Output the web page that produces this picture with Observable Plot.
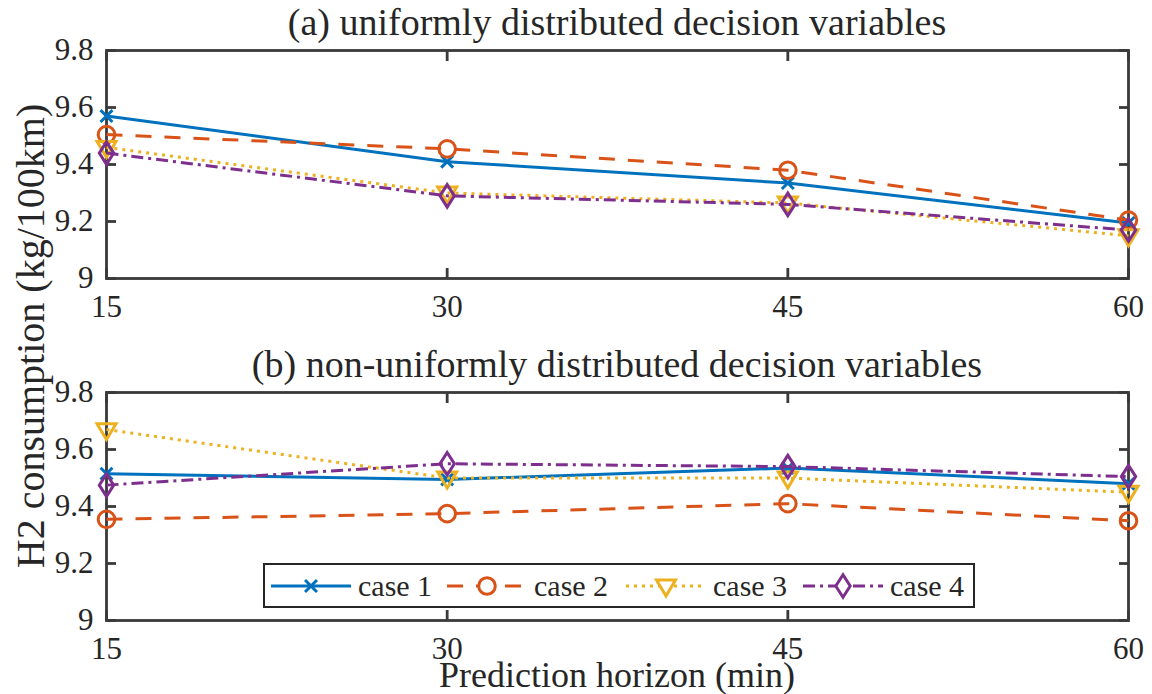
<!DOCTYPE html>
<html>
<head>
<meta charset="utf-8">
<script src="https://cdn.jsdelivr.net/npm/d3@7"></script>
<script src="https://cdn.jsdelivr.net/npm/@observablehq/plot@0.6"></script>
<style>
  body { margin: 0; background: #fff; }
  #fig { position: relative; width: 1152px; height: 694px; overflow: hidden; color: #262626;
         font-family: 'Liberation Serif', 'Times New Roman', serif; }
  .panel { position: absolute; left: 0; }
  .title { position: absolute; left: 106px; width: 1022px; text-align: center;
           font-size: 38px; line-height: 1; white-space: nowrap; }
  .ylabel { position: absolute; left: 31px; top: 336px;
            font-size: 40px; line-height: 1; white-space: nowrap;
            transform: translate(-50%, -50%) rotate(-90deg); }
  .xlabel { position: absolute; left: 106px; width: 1022px; top: 657px; text-align: center;
            font-size: 36px; line-height: 1; white-space: nowrap; }
  .legend { position: absolute; left: 263px; top: 563px; width: 708px; height: 41px;
            border: 2px solid #262626; background: #fff; }
  .legend .item { position: absolute; top: 0; height: 41px; display: flex; align-items: center; }
  .legend .item span { font-size: 30px; margin-left: 6px; white-space: nowrap; }
</style>
</head>
<body>
<div id="fig"></div>
<script>
// Prediction horizons (min) on the x axis
const horizons = [15, 30, 45, 60];
const yTicks = [9, 9.2, 9.4, 9.6, 9.8];
const caseNames = ["case 1", "case 2", "case 3", "case 4"];

// H2 consumption (kg/100km), uniformly distributed decision variables
const uniform1 = [9.57, 9.41, 9.335, 9.195];
const uniform2 = [9.505, 9.455, 9.38, 9.205];
const uniform3 = [9.46, 9.30, 9.265, 9.15];
const uniform4 = [9.44, 9.29, 9.26, 9.17];

// H2 consumption (kg/100km), non-uniformly distributed decision variables
const nonUniform1 = [9.515, 9.495, 9.535, 9.48];
const nonUniform2 = [9.355, 9.375, 9.41, 9.35];
const nonUniform3 = [9.67, 9.50, 9.50, 9.45];
const nonUniform4 = [9.475, 9.55, 9.54, 9.505];

const panelTitles = [
  "(a) uniformly distributed decision variables",
  "(b) non-uniformly distributed decision variables"
];

// Marker shapes: cross, circle, downward triangle, tall diamond
const symTimes = {
  draw(ctx, size) {
    const s = Math.sqrt(size / Math.PI) * 0.7;
    ctx.moveTo(-s, -s); ctx.lineTo(s, s);
    ctx.moveTo(s, -s); ctx.lineTo(-s, s);
  }
};
const symCircle = {
  draw(ctx, size) {
    const r = Math.sqrt(size / Math.PI);
    ctx.moveTo(r, 0); ctx.arc(0, 0, r, 0, 2 * Math.PI);
  }
};
const symTriDown = {
  draw(ctx, size) {
    const r = Math.sqrt(size / Math.PI);
    ctx.moveTo(-r, -0.62 * r); ctx.lineTo(r, -0.62 * r); ctx.lineTo(0, 1.05 * r); ctx.closePath();
  }
};
const symDiamond = {
  draw(ctx, size) {
    const r = Math.sqrt(size / Math.PI);
    ctx.moveTo(0, -1.25 * r); ctx.lineTo(0.8 * r, 0); ctx.lineTo(0, 1.25 * r); ctx.lineTo(-0.8 * r, 0); ctx.closePath();
  }
};

const styles = [
  {color: "#0072BD", dash: null, symbol: symTimes, r: 8.5},
  {color: "#D95319", dash: "16,13", symbol: symCircle, r: 8.3},
  {color: "#EDB120", dash: "3,5", symbol: symTriDown, r: 9.5},
  {color: "#7E2F8E", dash: "12,5,3,5", symbol: symDiamond, r: 9}
];

const axisColor = "#3a3a3a";
const textColor = "#262626";
const fontFamily = "'Liberation Serif', 'Times New Roman', serif";
const fmt = d => (d === 9 ? "9" : d3.format(".1f")(d));

function toRows(values) {
  return horizons.map((h, i) => ({horizon: h, value: values[i]}));
}

function panel(seriesValues) {
  const marks = [Plot.frame({stroke: axisColor, strokeWidth: 2.8})];
  // inward ticks on all four sides, labels on left and bottom
  const tickOpts = {tickSize: -10, fill: "none", stroke: axisColor, strokeWidth: 2.8, label: null};
  marks.push(
    Plot.axisX({anchor: "bottom", ticks: horizons, ...tickOpts}),
    Plot.axisX({anchor: "top", ticks: horizons, ...tickOpts}),
    Plot.axisY({anchor: "left", ticks: yTicks, ...tickOpts}),
    Plot.axisY({anchor: "right", ticks: yTicks, ...tickOpts}),
    Plot.axisX({anchor: "bottom", ticks: horizons, tickSize: 0, tickPadding: 16, tickFormat: d => String(d),
                fill: textColor, fontSize: 31, label: null}),
    Plot.axisY({anchor: "left", ticks: yTicks, tickSize: 0, tickPadding: 13, tickFormat: fmt,
                fill: textColor, fontSize: 31, label: null})
  );
  seriesValues.forEach((vals, i) => {
    const s = styles[i];
    const rows = toRows(vals);
    marks.push(
      Plot.line(rows, {x: "horizon", y: "value", stroke: s.color, strokeWidth: 3,
                       strokeDasharray: s.dash, strokeLinecap: "butt", strokeLinejoin: "round"}),
      Plot.dot(rows, {x: "horizon", y: "value", stroke: s.color, fill: "none", strokeWidth: 3,
                      symbol: s.symbol, r: s.r})
    );
  });
  return Plot.plot({
    width: 1152,
    height: 330,
    marginLeft: 106,
    marginRight: 24,
    marginTop: 50,
    marginBottom: 52,
    x: {domain: [15, 60]},
    y: {domain: [9, 9.8]},
    style: {fontFamily, fontSize: "31px", color: textColor, background: "transparent", overflow: "visible"},
    marks
  });
}

const fig = d3.select("#fig");

const upperPanel = panel([uniform1, uniform2, uniform3, uniform4]);
upperPanel.classList.add("panel");
upperPanel.style.top = "0px";
fig.node().appendChild(upperPanel);

const lowerPanel = panel([nonUniform1, nonUniform2, nonUniform3, nonUniform4]);
lowerPanel.classList.add("panel");
lowerPanel.style.top = "342px";
fig.node().appendChild(lowerPanel);

fig.append("div").attr("class", "title").style("top", "3px").text(panelTitles[0]);
fig.append("div").attr("class", "title").style("top", "345px").text(panelTitles[1]);
fig.append("div").attr("class", "ylabel").text("H2 consumption (kg/100km)");
fig.append("div").attr("class", "xlabel").text("Prediction horizon (min)");

// Legend with line and marker samples
const legend = fig.append("div").attr("class", "legend");
const itemLeft = [5, 181, 360, 537];
caseNames.forEach((name, i) => {
  const s = styles[i];
  const item = legend.append("div").attr("class", "item").style("left", itemLeft[i] + "px");
  const svg = item.append("svg").attr("width", 82).attr("height", 34);
  svg.append("line").attr("x1", 1).attr("x2", 81).attr("y1", 17).attr("y2", 17)
    .attr("stroke", s.color).attr("stroke-width", 3)
    .attr("stroke-dasharray", s.dash);
  svg.append("path").attr("transform", "translate(41,17)")
    .attr("d", d3.symbol().type(s.symbol).size(Math.PI * s.r * s.r)())
    .attr("fill", "#fff").attr("stroke", s.color).attr("stroke-width", 3);
  item.append("span").text(name);
});

// serif typeface set inline on every text element
fig.selectAll("div, span, text").style("font-family", fontFamily);
</script>
</body>
</html>
